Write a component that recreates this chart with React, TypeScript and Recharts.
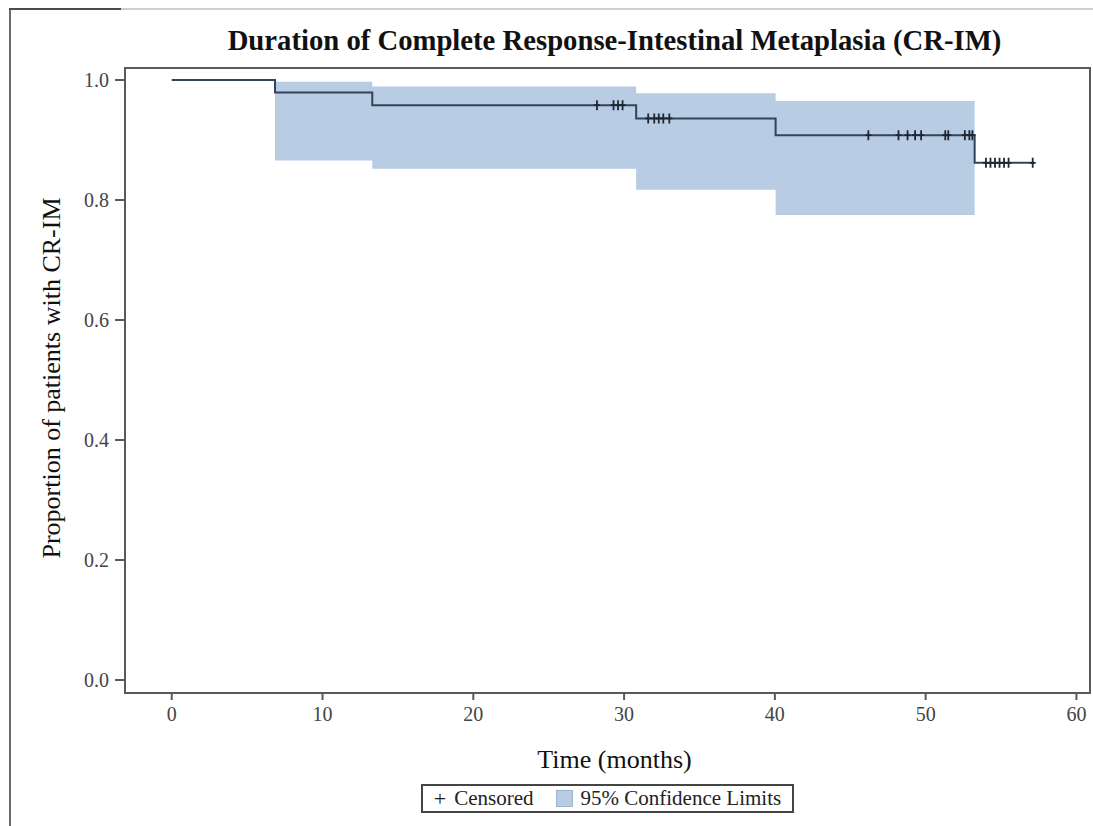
import {
  ComposedChart,
  Area,
  Line,
  Scatter,
  XAxis,
  YAxis,
  ReferenceArea
} from 'recharts'

// Kaplan-Meier estimate (months, proportion)
const survival = [
  { t: 0, s: 1.0 },
  { t: 6.85, s: 0.979 },
  { t: 13.3, s: 0.958 },
  { t: 30.8, s: 0.936 },
  { t: 40.05, s: 0.908 },
  { t: 53.25, s: 0.862 },
  { t: 57.2, s: 0.862 }
]

// 95% confidence band, held until next time point
const confBand = [
  { t: 6.85, ci: [0.866, 0.997] },
  { t: 13.3, ci: [0.852, 0.989] },
  { t: 30.8, ci: [0.817, 0.978] },
  { t: 40.05, ci: [0.775, 0.965] },
  { t: 53.25, ci: [0.775, 0.965] }
]

// censored observations
const censored = [
  { t: 28.2, s: 0.958 }, { t: 29.3, s: 0.958 }, { t: 29.6, s: 0.958 }, { t: 29.9, s: 0.958 },
  { t: 31.6, s: 0.936 }, { t: 32.0, s: 0.936 }, { t: 32.3, s: 0.936 }, { t: 32.6, s: 0.936 }, { t: 33.0, s: 0.936 },
  { t: 46.2, s: 0.908 }, { t: 48.2, s: 0.908 }, { t: 48.8, s: 0.908 }, { t: 49.3, s: 0.908 }, { t: 49.7, s: 0.908 },
  { t: 51.3, s: 0.908 }, { t: 51.5, s: 0.908 }, { t: 52.6, s: 0.908 }, { t: 52.9, s: 0.908 }, { t: 53.1, s: 0.908 },
  { t: 54.0, s: 0.862 }, { t: 54.3, s: 0.862 }, { t: 54.6, s: 0.862 }, { t: 54.9, s: 0.862 }, { t: 55.2, s: 0.862 },
  { t: 55.5, s: 0.862 }, { t: 57.1, s: 0.862 }
]

const xTicks = [0, 10, 20, 30, 40, 50, 60]
const yTicks = [0, 0.2, 0.4, 0.6, 0.8, 1.0]

const serif = '"Liberation Serif", "DejaVu Serif", serif'
const axisColor = '#5a5a5a'
const bandColor = '#b8cce4'
const lineColor = '#33435a'
const tickStyle = { fill: '#444', fontSize: 20, fontFamily: serif }

const Plus = (props: any) => {
  const { cx, cy } = props
  if (cx == null || cy == null) return null
  return (
    <path
      d={`M${cx - 3},${cy} H${cx + 3} M${cx},${cy - 5} V${cy + 5}`}
      stroke="#1e2733"
      strokeWidth={1.8}
      fill="none"
    />
  )
}

export default function App() {
  const xDomain: [number, number] = [-3.1, 60.9]
  const yDomain: [number, number] = [-0.0217, 1.02]

  return (
    <div style={{ position: 'absolute', left: 0, top: 0, width: 1093, height: 826, background: '#fff', fontFamily: serif, overflow: 'hidden' }}>
      {/* outer frame */}
      <div style={{ position: 'absolute', left: 9, top: 8, width: 1100, height: 830, borderLeft: '2px solid #6a6a6a', borderTop: '2px solid #cfcfcf' }} />
      <div style={{ position: 'absolute', left: 9, top: 8, width: 112, height: 2, background: '#4a4a4a' }} />

      <div style={{ position: 'absolute', left: 132, width: 965, top: 22, textAlign: 'center', fontWeight: 'bold', fontSize: 28.7, lineHeight: '36px', color: '#111', fontFamily: serif }}>
        Duration of Complete Response-Intestinal Metaplasia (CR-IM)
      </div>

      <ComposedChart
        width={1093}
        height={826}
        margin={{ top: 68, right: 3, bottom: 93, left: 0 }}
        style={{ position: 'absolute', left: 0, top: 0 }}
      >
        <XAxis
          type="number"
          dataKey="t"
          domain={xDomain}
          ticks={xTicks}
          height={40}
          allowDataOverflow
          stroke={axisColor}
          strokeWidth={2}
          tickSize={7}
          tickMargin={7}
          tick={tickStyle}
        />
        <YAxis
          type="number"
          domain={yDomain}
          ticks={yTicks}
          width={125}
          allowDataOverflow
          stroke={axisColor}
          strokeWidth={2}
          tickSize={10}
          tickMargin={6}
          tickFormatter={(v: number) => v.toFixed(1)}
          tick={tickStyle}
        />
        <Area
          data={confBand}
          dataKey="ci"
          type="stepAfter"
          fill={bandColor}
          fillOpacity={1}
          stroke="none"
          isAnimationActive={false}
        />
        <Line
          data={survival}
          dataKey="s"
          type="stepAfter"
          stroke={lineColor}
          strokeWidth={2}
          dot={false}
          isAnimationActive={false}
        />
        <Scatter
          data={censored}
          dataKey="s"
          shape={Plus}
          isAnimationActive={false}
        />
        <ReferenceArea
          x1={xDomain[0]}
          x2={xDomain[1]}
          y1={yDomain[0]}
          y2={yDomain[1]}
          fill="none"
          stroke={axisColor}
          strokeWidth={2}
          ifOverflow="visible"
        />
      </ComposedChart>

      <div style={{ position: 'absolute', left: 132, width: 965, top: 744, textAlign: 'center', fontSize: 26, lineHeight: '32px', color: '#111', fontFamily: serif }}>
        Time (months)
      </div>
      <div
        style={{
          position: 'absolute',
          left: 52,
          top: 378,
          transform: 'translate(-50%, -50%) rotate(-90deg)',
          whiteSpace: 'nowrap',
          fontSize: 26,
          lineHeight: '32px',
          color: '#111',
          fontFamily: serif
        }}
      >
        Proportion of patients with CR-IM
      </div>

      <div
        style={{
          position: 'absolute',
          left: 421,
          top: 784,
          width: 373,
          height: 29,
          border: '2px solid #444',
          display: 'flex',
          alignItems: 'center',
          justifyContent: 'center',
          gap: 8,
          fontSize: 21,
          fontFamily: serif,
          color: '#222',
          boxSizing: 'border-box'
        }}
      >
        <span style={{ fontSize: 22, lineHeight: '22px' }}>+</span>
        <span>Censored</span>
        <span style={{ display: 'inline-block', width: 15, height: 15, background: bandColor, border: '1px solid #9fb3cc', marginLeft: 14 }} />
        <span>95% Confidence Limits</span>
      </div>
    </div>
  )
}
